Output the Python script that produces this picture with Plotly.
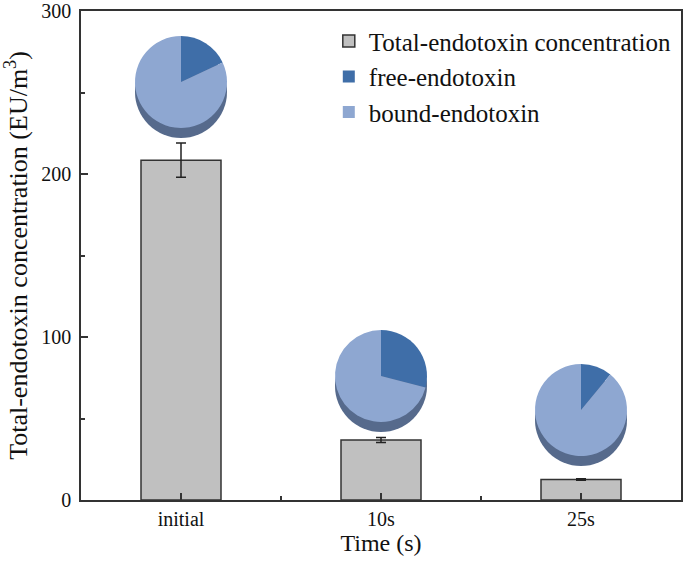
import plotly.graph_objects as go

# data
categories = ["initial", "10s", "25s"]
total_conc = [208.5, 36.8, 12.6]
total_err = [10.5, 1.5, 0.5]
free_pct = [18, 29, 11]
bound_pct = [82, 71, 89]
y_ticks = [0, 100, 200, 300]

FONT = "Liberation Serif, Times New Roman, serif"
FREE_COLOR = "#3f6ea8"
BOUND_COLOR = "#8ea7d1"
SIDE_COLOR = "#566a8c"
LINE = "#333333"

x_pos = list(range(len(categories)))

fig = go.Figure()
fig.add_bar(
    x=x_pos,
    y=total_conc,
    width=0.4,
    name="Total-endotoxin concentration",
    marker=dict(color="#c0c0c0", line=dict(color=LINE, width=1.5)),
    error_y=dict(type="data", array=total_err, color="#222222", thickness=1.5, width=5),
    hoverinfo="skip",
)

# pie placement (fractions of the plot area)
plot_w, plot_h = 600, 489
pie_cy = [(500 - 82) / plot_h, (500 - 376) / plot_h, (500 - 410) / plot_h]
pie_r = 46 / plot_w
r_y = 46 / plot_h
depth = 10 / plot_h

for i, cy in enumerate(pie_cy):
    cx = (i + 0.5) / len(categories)
    # darker pie underneath for a bit of thickness
    fig.add_pie(
        values=[1],
        labels=[f"side{i}"],
        marker=dict(colors=[SIDE_COLOR]),
        domain=dict(x=[cx - pie_r, cx + pie_r], y=[cy - r_y - depth, cy + r_y - depth]),
        textinfo="none",
        hoverinfo="skip",
        showlegend=False,
        sort=False,
    )
    fig.add_pie(
        values=[free_pct[i], bound_pct[i]],
        labels=["free-endotoxin", "bound-endotoxin"],
        marker=dict(colors=[FREE_COLOR, BOUND_COLOR]),
        domain=dict(x=[cx - pie_r, cx + pie_r], y=[cy - r_y, cy + r_y]),
        direction="clockwise",
        rotation=0,
        sort=False,
        textinfo="none",
        hoverinfo="label+percent",
        showlegend=(i == 0),
    )

fig.update_layout(
    width=689,
    height=574,
    template="plotly_white",
    plot_bgcolor="white",
    paper_bgcolor="white",
    margin=dict(l=81, r=8, t=11, b=74, autoexpand=False),
    font=dict(family=FONT, size=20, color="#111111"),
    showlegend=True,
    legend=dict(
        x=0.413, y=0.985, xanchor="left", yanchor="top",
        font=dict(family=FONT, size=25, color="#111111"),
        bgcolor="rgba(0,0,0,0)",
        traceorder="normal",
        tracegroupgap=8,
    ),
)

fig.update_xaxes(
    range=[-0.5, 2.5],
    tickmode="array",
    tickvals=x_pos,
    ticktext=categories,
    ticks="inside",
    ticklen=7,
    tickwidth=1.5,
    tickcolor=LINE,
    minor=dict(tickvals=[0.5, 1.5], ticks="inside", ticklen=4, tickwidth=1.5, tickcolor=LINE),
    showline=True,
    linecolor=LINE,
    linewidth=1.5,
    mirror=True,
    showgrid=False,
    zeroline=False,
    automargin=False,
    title=dict(text="Time (s)", font=dict(family=FONT, size=24), standoff=1),
    tickfont=dict(family=FONT, size=20),
)
fig.update_yaxes(
    range=[0, 300],
    tickmode="array",
    tickvals=y_ticks,
    ticks="inside",
    ticklen=7,
    tickwidth=1.5,
    tickcolor=LINE,
    minor=dict(tickvals=[50, 150, 250], ticks="inside", ticklen=4, tickwidth=1.5, tickcolor=LINE),
    showline=True,
    linecolor=LINE,
    linewidth=1.5,
    mirror=True,
    showgrid=False,
    zeroline=False,
    automargin=False,
    ticklabelstandoff=4,
    title=dict(text="Total-endotoxin concentration (EU/m<sup>3</sup>)", font=dict(family=FONT, size=26), standoff=6),
    tickfont=dict(family=FONT, size=20),
)

# drop the browser's default 8px body margin so the figure sits at the page origin
fig.write_html(
    "out.html",
    config={"displayModeBar": False},
    post_script="document.body.style.margin='0';",
)
